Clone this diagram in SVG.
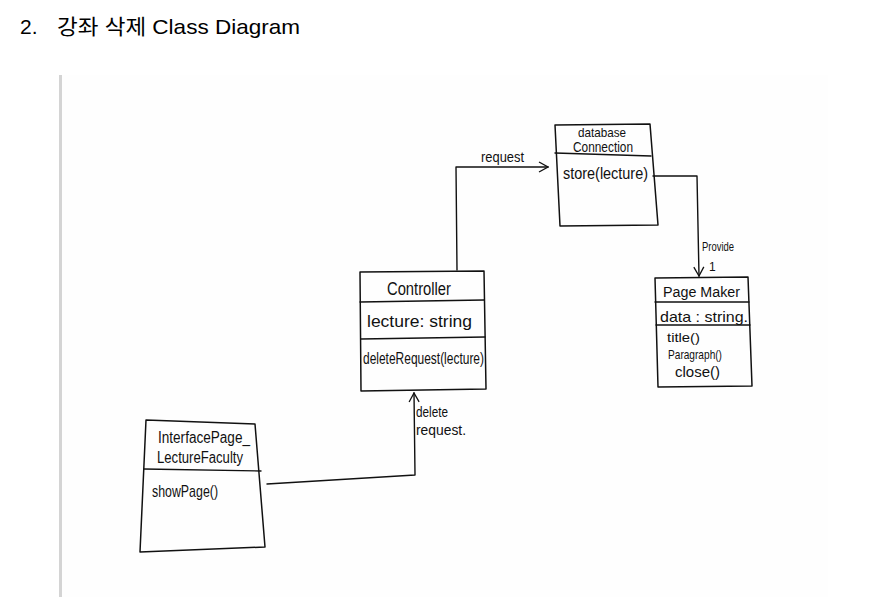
<svg xmlns="http://www.w3.org/2000/svg" width="887" height="597" viewBox="0 0 887 597">
<style>
.t{font-family:"Liberation Sans",Arial,sans-serif;fill:#000}
.h{font-family:"Liberation Sans",Arial,sans-serif;fill:#111}
.ln{fill:none;stroke:#111;stroke-width:1.4;stroke-linejoin:round;stroke-linecap:round}
.box{fill:none;stroke:#111;stroke-width:1.5;stroke-linejoin:round}
</style>
<defs>
<marker id="open" viewBox="0 0 12 12" refX="11" refY="6" markerWidth="12" markerHeight="12" markerUnits="userSpaceOnUse" orient="auto">
<path d="M2,1 L11,6 L2,11" fill="none" stroke="#111" stroke-width="1.3"/>
</marker>
</defs>
<rect width="887" height="597" fill="#fff"/>
<text class="t" x="20" y="34" font-size="21">2.</text>
<text class="t" x="57" y="34" font-size="21" style="font-family:'Liberation Sans','Noto Sans CJK KR',sans-serif" textLength="243" lengthAdjust="spacingAndGlyphs">강좌 삭제 Class Diagram</text>
<rect x="62" y="75" width="766" height="522" fill="#fefefe"/>
<rect x="59" y="75" width="3" height="522" fill="#d4d4d4"/>

<g id="connectors">
<polyline class="ln" points="457,270 456,167 548,167" marker-end="url(#open)"/>
<text class="h" x="481" y="162" font-size="14" textLength="43" lengthAdjust="spacingAndGlyphs">request</text>
<polyline class="ln" points="653,176 697,176 699,276" marker-end="url(#open)"/>
<text class="h" x="702" y="251" font-size="13" textLength="32" lengthAdjust="spacingAndGlyphs">Provide</text>
<text class="h" x="709" y="271" font-size="12">1</text>
<polyline class="ln" points="267,484 415,475 414,393" marker-end="url(#open)"/>
<text class="h" x="416" y="417" font-size="15" textLength="32" lengthAdjust="spacingAndGlyphs">delete</text>
<text class="h" x="416" y="435" font-size="15" textLength="50" lengthAdjust="spacingAndGlyphs">request.</text>
</g>

<g id="databaseConnection">
<polygon class="box" points="555,125 650,124 658,225 560,226"/>
<line class="ln" x1="555" y1="153" x2="651" y2="156"/>
<text class="h" x="578" y="137" font-size="13" textLength="48" lengthAdjust="spacingAndGlyphs">database</text>
<text class="h" x="573" y="152" font-size="14" textLength="60" lengthAdjust="spacingAndGlyphs">Connection</text>
<text class="h" x="563" y="179" font-size="16" textLength="85" lengthAdjust="spacingAndGlyphs">store(lecture)</text>
</g>

<g id="Controller">
<polygon class="box" points="360,272 484,271 486,389 361,391"/>
<line class="ln" x1="360" y1="302" x2="484" y2="300"/>
<line class="ln" x1="361" y1="339" x2="485" y2="337"/>
<text class="h" x="387" y="295" font-size="18" textLength="64" lengthAdjust="spacingAndGlyphs">Controller</text>
<text class="h" x="367" y="327" font-size="17" textLength="105" lengthAdjust="spacingAndGlyphs">lecture: string</text>
<text class="h" x="363" y="364" font-size="17" textLength="121" lengthAdjust="spacingAndGlyphs">deleteRequest(lecture)</text>
</g>

<g id="PageMaker">
<polygon class="box" points="655,278 748,277 752,386 658,387"/>
<line class="ln" x1="655" y1="302" x2="749" y2="302"/>
<line class="ln" x1="656" y1="325" x2="750" y2="325"/>
<text class="h" x="663" y="297" font-size="14" textLength="77" lengthAdjust="spacingAndGlyphs">Page Maker</text>
<text class="h" x="660" y="322" font-size="15" textLength="88" lengthAdjust="spacingAndGlyphs">data : string.</text>
<text class="h" x="667" y="342" font-size="13" textLength="33" lengthAdjust="spacingAndGlyphs">title()</text>
<text class="h" x="668" y="359" font-size="13" textLength="54" lengthAdjust="spacingAndGlyphs">Paragraph()</text>
<text class="h" x="675" y="377" font-size="14" textLength="45" lengthAdjust="spacingAndGlyphs">close()</text>
</g>

<g id="InterfacePage_LectureFaculty">
<polygon class="box" points="146,420 255,424 265,547 140,552"/>
<line class="ln" x1="144" y1="469" x2="261" y2="471"/>
<text class="h" x="158" y="443" font-size="16" textLength="92" lengthAdjust="spacingAndGlyphs">InterfacePage_</text>
<text class="h" x="157" y="463" font-size="16" textLength="86" lengthAdjust="spacingAndGlyphs">LectureFaculty</text>
<text class="h" x="152" y="497" font-size="17" textLength="66" lengthAdjust="spacingAndGlyphs">showPage()</text>
</g>
</svg>
